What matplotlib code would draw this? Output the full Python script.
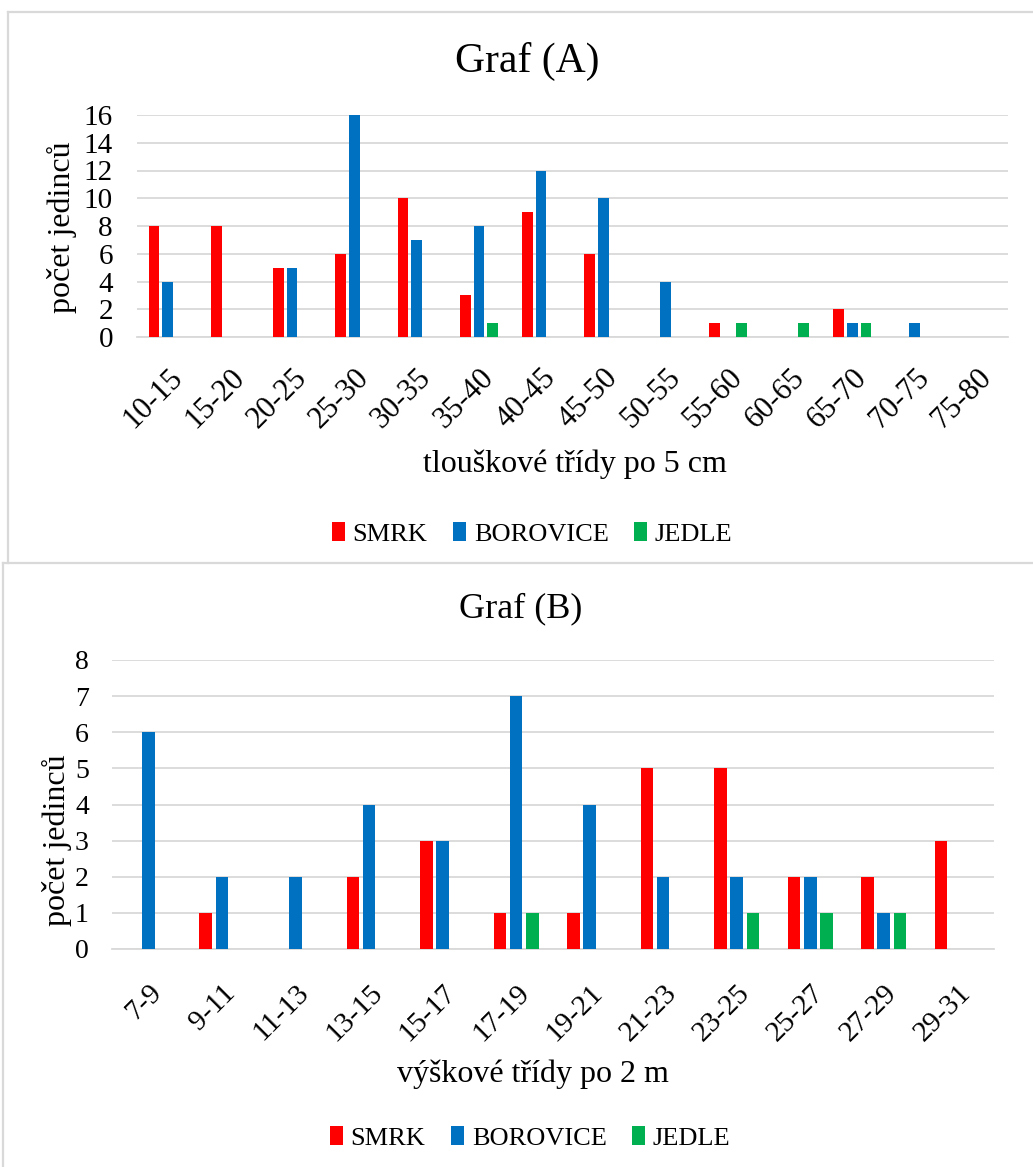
import matplotlib
matplotlib.use("Agg")
import matplotlib.pyplot as plt
import numpy as np
from matplotlib.lines import Line2D
from matplotlib.patches import Patch
from matplotlib.transforms import ScaledTranslation

plt.rcParams["font.family"] = ["Liberation Serif", "DejaVu Serif"]

W, H, DPI = 1033, 1167, 100

# Graf (A): diameter classes
tridy_a = ["10-15", "15-20", "20-25", "25-30", "30-35", "35-40", "40-45",
           "45-50", "50-55", "55-60", "60-65", "65-70", "70-75", "75-80"]
smrk_a = [8, 8, 5, 6, 10, 3, 9, 6, 0, 1, 0, 2, 0, 0]
borovice_a = [4, 0, 5, 16, 7, 8, 12, 10, 4, 0, 0, 1, 1, 0]
jedle_a = [0, 0, 0, 0, 0, 1, 0, 0, 0, 1, 1, 1, 0, 0]

# Graf (B): height classes
tridy_b = ["7-9", "9-11", "11-13", "13-15", "15-17", "17-19",
           "19-21", "21-23", "23-25", "25-27", "27-29", "29-31"]
smrk_b = [0, 1, 0, 2, 3, 1, 1, 5, 5, 2, 2, 3]
borovice_b = [6, 2, 2, 4, 3, 7, 4, 2, 2, 2, 1, 0]
jedle_b = [0, 0, 0, 0, 0, 1, 0, 0, 1, 1, 1, 0]

druhy = ["SMRK", "BOROVICE", "JEDLE"]
barvy = ["#ff0000", "#0070c0", "#00b050"]
GRID = "#d9d9d9"

fig = plt.figure(figsize=(W / DPI, H / DPI), dpi=DPI)


def px_axes(x0, x1, ytop, ybot):
    return fig.add_axes([x0 / W, 1 - ybot / H, (x1 - x0) / W, (ybot - ytop) / H])


def fig_xy(x, y):
    return x / W, 1 - y / H


def draw_chart(ax, cats, series, ymax, ystep, tick_fs, ytick_pad,
               xtick_fs, xtick_pad, xtick_dx):
    x = np.arange(len(cats))
    step, width = 0.22, 0.172
    for i, (vals, col) in enumerate(zip(series, barvy)):
        ax.bar(x + (i - 1) * step, vals, width, color=col, zorder=3)
    ax.set_xlim(-0.5, len(cats) - 0.5)
    ax.set_ylim(0, ymax)
    ax.set_yticks(np.arange(0, ymax + 1, ystep))
    ax.set_xticks(x)
    ax.set_xticklabels(cats, rotation=45, ha="right", va="top",
                       rotation_mode="anchor", fontsize=xtick_fs)
    shift = ScaledTranslation(xtick_dx / DPI, 0, fig.dpi_scale_trans)
    for lab in ax.get_xticklabels():
        lab.set_transform(lab.get_transform() + shift)
    ax.tick_params(axis="both", length=0)
    ax.tick_params(axis="y", labelsize=tick_fs, pad=ytick_pad)
    ax.tick_params(axis="x", pad=xtick_pad)
    ax.yaxis.grid(True, color=GRID, lw=1.3)
    ax.set_axisbelow(True)
    for s in ("top", "right", "left"):
        ax.spines[s].set_visible(False)
    ax.spines["bottom"].set_color(GRID)
    ax.spines["bottom"].set_linewidth(1.3)


def labels(ax, ytext, ypos, xtext, xpos, fs):
    ax.set_ylabel(ytext, fontsize=fs, va="center")
    ax.yaxis.set_label_coords(*fig_xy(*ypos), transform=fig.transFigure)
    ax.set_xlabel(xtext, fontsize=fs, va="center")
    ax.xaxis.set_label_coords(*fig_xy(*xpos), transform=fig.transFigure)


# chart frames
for xs, ys in [((8, 8), (12, 563)), ((8, 1033), (12, 12)),
               ((3, 1033), (563, 563)), ((3, 3), (563, 1167))]:
    fig.add_artist(Line2D([v / W for v in xs], [1 - v / H for v in ys],
                          color=GRID, lw=1.6))

handles = [Patch(facecolor=c, edgecolor="none") for c in barvy]
leg_kw = dict(loc="center", ncol=3, frameon=False, fontsize=19,
              handlelength=0.5, handleheight=0.7, handletextpad=0.3,
              columnspacing=0.95)

# ---- Graf (A)
axA = px_axes(136.5, 1008, 115, 337)
draw_chart(axA, tridy_a, [smrk_a, borovice_a, jedle_a], 16, 2, 21, 17,
           22, 19, 4)
fig.text(*fig_xy(527, 61), "Graf (A)", ha="center", va="center", fontsize=30)
labels(axA, "počet jedinců", (62, 227), "tlouškové třídy po 5 cm", (575, 464), 23)
fig.legend(handles, druhy, bbox_to_anchor=fig_xy(532, 534), **leg_kw)

# ---- Graf (B)
axB = px_axes(111.7, 994, 660, 949)
draw_chart(axB, tridy_b, [smrk_b, borovice_b, jedle_b], 8, 1, 20, 16.5,
           21, 22, 4)
fig.text(*fig_xy(521, 609), "Graf (B)", ha="center", va="center", fontsize=26)
labels(axB, "počet jedinců", (57, 840), "výškové třídy po 2 m", (533, 1074), 23)
fig.legend(handles, druhy, bbox_to_anchor=fig_xy(530, 1138), **leg_kw)

fig.savefig("out.png", dpi=DPI, facecolor="white")
